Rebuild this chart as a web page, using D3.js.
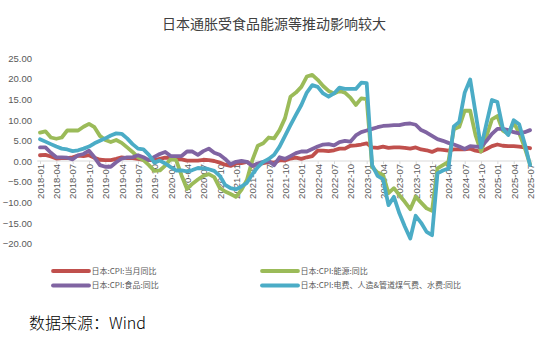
<!DOCTYPE html>
<html><head><meta charset="utf-8">
<script src="https://cdn.jsdelivr.net/npm/d3@7"></script>
<style>html,body{margin:0;padding:0;background:#fff;}svg{display:block;}</style>
</head><body>
<svg id="c" width="554" height="345"></svg>
<script>
const title = "日本通胀受食品能源等推动影响较大";
const source = "数据来源：Wind";
const seriesNames = ["日本:CPI:当月同比","日本:CPI:能源:同比","日本:CPI:食品:同比","日本:CPI:电费、人造&管道煤气费、水费:同比"];
const seriesColors = ["#C0504D","#9BBB59","#8064A2","#4BACC6"];
const yTicks = [-20,-15,-10,-5,0,5,10,15,20,25];

// months 2018-01 .. 2025-07
const months = [];
for (let y = 2018; y <= 2025; y++) for (let m = 1; m <= 12; m++) { if (y === 2025 && m > 7) break; months.push(y + "-" + String(m).padStart(2, "0")); }

const cpi = [
 1.4,1.5,1.1,0.6,0.7,0.7,0.9,1.3,1.2,1.4,0.8,0.3,
 0.2,0.2,0.5,0.9,0.7,0.7,0.5,0.3,0.2,0.2,0.5,0.8,
 0.7,0.4,0.4,0.1,0.1,0.1,0.3,0.2,0.0,-0.4,-0.9,-1.2,
 -0.6,-0.5,-0.2,-1.1,-0.8,-0.5,-0.3,-0.4,0.2,0.1,0.6,0.8,
 0.5,0.9,1.2,2.5,2.5,2.4,2.6,3.0,3.0,3.7,3.8,4.0,
 4.3,3.3,3.2,3.5,3.2,3.3,3.3,3.2,3.0,3.3,2.8,2.6,
 2.2,2.8,2.7,2.5,2.8,2.8,2.8,3.0,2.5,2.3,2.9,3.6,
 4.0,3.7,3.6,3.6,3.5,3.3,3.1];
const energy = [
 6.9,7.2,5.7,5.4,5.7,7.4,7.4,7.4,8.3,9.0,8.2,6.1,
 5.1,4.6,5.1,4.4,3.3,2.2,0.9,0.2,-1.0,-2.4,-2.3,-1.1,
 0.5,0.2,-3.5,-6.8,-5.5,-4.5,-3.6,-3.2,-3.9,-6.5,-7.4,-8.0,
 -8.7,-7.0,-4.6,0.2,3.7,4.3,5.7,5.5,7.5,10.4,15.6,16.6,
 18.0,20.5,20.9,19.7,18.2,17.0,16.4,17.0,16.6,15.4,13.6,15.2,
 15.0,-1.5,-2.8,-3.4,-7.8,-6.6,-8.3,-9.9,-11.7,-8.7,-10.1,-11.5,
 -12.1,-1.8,-1.0,-0.2,7.7,8.3,12.2,12.2,6.2,2.3,6.0,10.1,
 10.9,7.4,6.6,9.3,6.8,3.3,-0.8];
const food = [
 3.3,3.3,2.0,0.9,0.9,0.8,0.4,1.4,1.7,2.5,0.9,-1.0,
 -1.4,-1.4,-0.3,0.6,0.9,0.9,1.4,0.9,0.2,1.0,1.7,2.2,
 1.2,1.2,1.2,2.3,2.3,1.5,2.4,3.0,2.0,1.5,0.5,-0.8,
 -0.2,0.0,-0.2,-1.2,-0.6,-0.2,0.0,-1.0,0.9,0.5,1.2,1.9,
 2.3,2.3,2.9,3.5,4.0,4.1,3.8,4.6,4.9,4.7,6.2,7.0,
 7.4,7.8,8.2,8.5,8.6,8.7,8.7,9.0,9.1,8.8,7.5,6.9,
 6.1,5.3,4.9,4.4,4.0,3.5,2.9,3.6,3.5,3.4,4.9,6.6,
 7.8,7.8,7.5,7.0,6.7,7.0,7.5];
const utility = [
 5.3,4.7,4.1,3.5,3.0,2.8,2.4,2.6,3.0,3.5,4.3,4.9,
 5.5,6.2,6.7,6.6,5.5,4.1,3.0,2.8,1.5,-0.4,0.1,-0.6,
 -1.5,-2.3,-2.3,-2.5,-2.2,-1.7,-1.8,-2.0,-2.4,-3.6,-5.8,-6.6,
 -6.9,-6.2,-5.3,-3.2,-1.5,-0.2,0.5,1.5,3.5,6.1,8.7,11.2,
 13.6,16.6,18.4,18.0,16.4,15.6,16.4,17.8,17.5,17.5,17.5,19.0,
 18.9,-1.0,-3.6,-4.4,-10.7,-8.7,-12.7,-15.9,-18.8,-13.3,-15.0,-17.2,
 -18.0,-3.0,-2.3,-1.8,8.4,9.5,16.6,19.8,11.6,3.3,9.1,14.8,
 14.3,7.9,6.3,9.9,8.9,4.3,-1.0];

const seriesValues = [cpi, energy, food, utility];
const xTickLabels = months.filter((d, i) => i % 3 === 0);

const svg = d3.select("#c");
const step = 5.445;
const x = d3.scalePoint().domain(months).range([40, 40 + step * (months.length - 1)]);
const y = d3.scaleLinear().domain([-20, 25]).range([243.4, 58]);

// title
svg.append("text").attr("x", 274).attr("y", 29).attr("text-anchor", "middle")
  .attr("font-family", "'Noto Sans CJK SC', sans-serif").attr("font-size", 14)
  .attr("fill", "#404040").text(title);

// y axis (labels only)
const yAxis = d3.axisLeft(y).tickValues(yTicks).tickFormat(d3.format(".2f")).tickSize(0).tickPadding(0);
const gy = svg.append("g").attr("transform", "translate(32,0)").call(yAxis);
gy.select(".domain").remove();
gy.selectAll("text").attr("font-family", "'Liberation Sans', Arial, sans-serif").attr("font-size", 9.5).attr("fill", "#595959").attr("dy", "0.35em");

// x axis at y=0
const xAxis = d3.axisBottom(x).tickValues(xTickLabels).tickSize(3).tickPadding(2);
const gx = svg.append("g").attr("transform", `translate(0,${y(0)})`).call(xAxis);
gx.select(".domain").attr("d", `M${40 - step / 2},0H${40 + step * (months.length - 0.5)}`).attr("stroke", "#D9D9D9");
gx.selectAll(".tick line").attr("stroke", "#D9D9D9");
gx.selectAll("text").attr("font-family", "'Liberation Sans', Arial, sans-serif").attr("font-size", 9.5).attr("fill", "#595959")
  .attr("text-anchor", "end").attr("transform", "rotate(-90)").attr("x", -3).attr("y", 0).attr("dy", "0.35em");

// lines
const line = d3.line().x((d, i) => x(months[i])).y(d => y(d));
seriesValues.forEach((vals, k) => {
  svg.append("path").datum(vals).attr("d", line).attr("fill", "none")
    .attr("stroke", seriesColors[k]).attr("stroke-width", 3.8)
    .attr("stroke-linejoin", "round").attr("stroke-linecap", "round");
});

// legend
const legPos = [[53, 271], [262, 271], [53, 285.5], [262, 285.5]];
seriesNames.forEach((name, k) => {
  const [lx, ly] = legPos[k];
  svg.append("line").attr("x1", lx).attr("x2", lx + 36).attr("y1", ly).attr("y2", ly)
    .attr("stroke", seriesColors[k]).attr("stroke-width", 3.8).attr("stroke-linecap", "round");
  svg.append("text").attr("x", lx + 38.5).attr("y", ly).attr("dy", "0.35em")
    .attr("font-family", "'Noto Sans CJK SC', sans-serif").attr("font-size", 8)
    .attr("fill", "#595959").text(name);
});

// source
svg.append("text").attr("x", 29).attr("y", 329)
  .attr("font-family", "'Noto Sans CJK SC', sans-serif").attr("font-size", 16).attr("font-weight", 300)
  .attr("fill", "#000").text(source);
</script>
</body></html>
